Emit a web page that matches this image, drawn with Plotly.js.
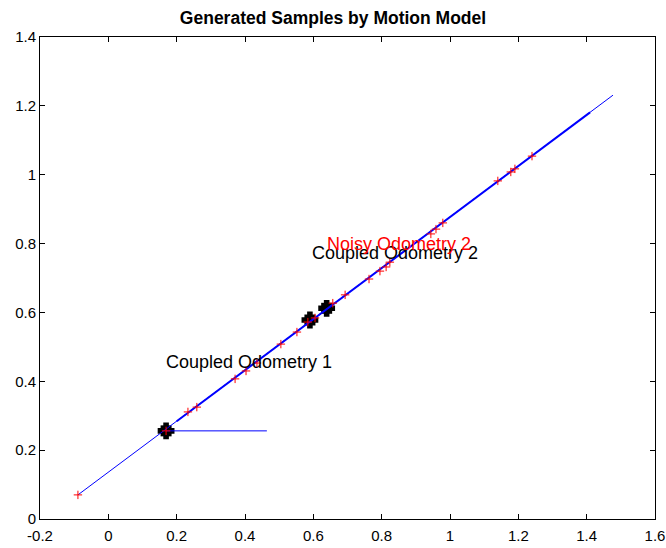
<!DOCTYPE html>
<html>
<head>
<meta charset="utf-8">
<script src="https://cdn.plot.ly/plotly-3.0.1.min.js"></script>
<style>html,body{margin:0;padding:0;background:#fff;}#chart{width:666px;height:548px;}</style>
</head>
<body>
<div id="chart"></div>
<script>
// Noisy samples (red +)
const sampleX = [-0.089, 0.169, 0.233, 0.259, 0.371, 0.403, 0.435, 0.505, 0.552, 0.584, 0.605, 0.657, 0.693, 0.763, 0.795, 0.813, 0.824, 0.944, 0.959, 0.979, 1.140, 1.178, 1.190, 1.240];
const sampleY = [0.070, 0.256, 0.311, 0.325, 0.407, 0.430, 0.453, 0.508, 0.543, 0.572, 0.584, 0.627, 0.651, 0.697, 0.720, 0.732, 0.746, 0.828, 0.842, 0.860, 0.982, 1.008, 1.017, 1.054];
// Coupled odometry poses (black squares)
const poseX = [0.169, 0.590, 0.639];
const poseY = [0.256, 0.578, 0.612];
// Motion model line (blue)
const lineX = [-0.089, 1.477];
const lineY = [0.070, 1.231];
const lineThickX = [0.20, 1.41];
const lineThickY = [0.284, 1.181];
// Heading segment (blue)
const headX = [0.169, 0.464];
const headY = [0.256, 0.256];
// Labels
const labelText = ["Coupled Odometry 1", "Coupled Odometry 2", "Noisy Odometry 2"];
const labelX = [0.163, 0.591, 0.635];
const labelY = [0.456, 0.773, 0.800];
const labelColor = ["#000000", "#000000", "#ff0000"];
// Ticks
const xTickVals = [-0.2, 0, 0.2, 0.4, 0.6, 0.8, 1, 1.2, 1.4, 1.6];
const xTickText = ["-0.2", "0", "0.2", "0.4", "0.6", "0.8", "1", "1.2", "1.4", "1.6"];
const yTickVals = [0, 0.2, 0.4, 0.6, 0.8, 1, 1.2, 1.4];
const yTickText = ["0", "0.2", "0.4", "0.6", "0.8", "1", "1.2", "1.4"];

const traces = [
  {x: poseX, y: poseY, mode: 'markers', type: 'scatter',
   marker: {symbol: 'square', size: 11, color: '#000'}, hoverinfo: 'none'},
  {x: poseX, y: poseY, mode: 'markers', type: 'scatter',
   marker: {symbol: 'cross', size: 14, color: '#000'}, hoverinfo: 'none'},
  {x: lineX, y: lineY, mode: 'lines', type: 'scatter',
   line: {color: '#0000ff', width: 1}},
  {x: lineThickX, y: lineThickY, mode: 'lines', type: 'scatter',
   line: {color: '#0000ff', width: 2}},
  {x: headX, y: headY, mode: 'lines', type: 'scatter',
   line: {color: '#0000ff', width: 1}},
  {x: sampleX, y: sampleY, mode: 'markers', type: 'scatter',
   marker: {symbol: 'cross-thin', size: 6, color: '#ff0000', line: {color: '#ff0000', width: 1}}}
];

const annotations = labelText.map((t, i) => ({
  x: labelX[i], y: labelY[i], xref: 'x', yref: 'y', text: t, showarrow: false,
  xanchor: 'left', yanchor: 'middle',
  font: {family: 'Liberation Sans, Arial, sans-serif', size: 18, color: labelColor[i]}
}));

const axisCommon = {
  showgrid: false, zeroline: false, showline: true, mirror: 'ticks',
  linecolor: '#000', linewidth: 1, ticks: 'inside', ticklen: 5, tickcolor: '#000',
  tickfont: {family: 'Liberation Sans, Arial, sans-serif', size: 15, color: '#000'}
};

const layout = {
  width: 666, height: 548,
  margin: {l: 40, r: 11, t: 37, b: 29},
  paper_bgcolor: '#fff', plot_bgcolor: '#fff',
  showlegend: false,
  title: {text: 'Generated Samples by Motion Model', x: 0.5, xanchor: 'center', y: 0.968, yanchor: 'middle',
          font: {family: 'Liberation Sans, Arial, sans-serif', size: 17.5, color: '#000', weight: 'bold'}},
  xaxis: Object.assign({}, axisCommon, {range: [-0.2, 1.6], tickmode: 'array', tickvals: xTickVals, ticktext: xTickText, ticklabelstandoff: 3}),
  yaxis: Object.assign({}, axisCommon, {range: [0, 1.4], tickmode: 'array', tickvals: yTickVals, ticktext: yTickText}),
  annotations: annotations
};

Plotly.newPlot('chart', traces, layout, {displayModeBar: false, staticPlot: true});
</script>
</body>
</html>
